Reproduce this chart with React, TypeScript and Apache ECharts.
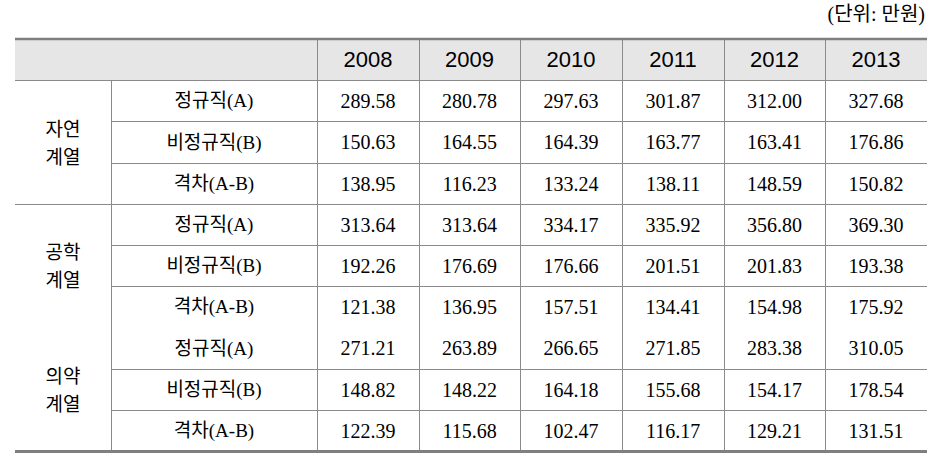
import React, { useEffect, useRef } from "react";
import * as echarts from "echarts";

// ---- data ----
const unitLabel = "(단위: 만원)";
const years = ["2008", "2009", "2010", "2011", "2012", "2013"];
const groups = ["자연\n계열", "공학\n계열", "의약\n계열"];
const types = ["정규직(A)", "비정규직(B)", "격차(A-B)"];

const natRegular = [289.58, 280.78, 297.63, 301.87, 312.0, 327.68];
const natIrregular = [150.63, 164.55, 164.39, 163.77, 163.41, 176.86];
const natGap = [138.95, 116.23, 133.24, 138.11, 148.59, 150.82];
const engRegular = [313.64, 313.64, 334.17, 335.92, 356.8, 369.3];
const engIrregular = [192.26, 176.69, 176.66, 201.51, 201.83, 193.38];
const engGap = [121.38, 136.95, 157.51, 134.41, 154.98, 175.92];
const medRegular = [271.21, 263.89, 266.65, 271.85, 283.38, 310.05];
const medIrregular = [148.82, 148.22, 164.18, 155.68, 154.17, 178.54];
const medGap = [122.39, 115.68, 102.47, 116.17, 129.21, 131.51];

// ---- layout (not data) ----
const COL_EDGES = [0, 96, 302, 403.67, 505.33, 607, 708.67, 810.33, 912];
const LINE = "#8a8a8a";
const SERIF = '"Liberation Serif", "Times New Roman", "Noto Sans CJK KR", serif';
const SANS = '"Liberation Sans", Arial, sans-serif';

type Kind = "corner" | "year" | "group" | "type" | "value";
type Cell = {
  c0: number; c1: number; r0: number; r1: number;
  text: string; kind: Kind; left: boolean; bottom: number; top: boolean;
};

function buildCells(): Cell[] {
  const cells: Cell[] = [];
  cells.push({ c0: 0, c1: 2, r0: 0, r1: 1, text: "", kind: "corner", left: false, bottom: 1, top: true });
  years.forEach((y, i) =>
    cells.push({ c0: 2 + i, c1: 3 + i, r0: 0, r1: 1, text: y, kind: "year", left: true, bottom: 1, top: true })
  );
  const valueSets = [
    [natRegular, natIrregular, natGap],
    [engRegular, engIrregular, engGap],
    [medRegular, medIrregular, medGap],
  ];
  const groupBottoms = [1, 0, 3];
  groups.forEach((g, gi) => {
    cells.push({ c0: 0, c1: 1, r0: 1 + 3 * gi, r1: 4 + 3 * gi, text: g, kind: "group", left: false, bottom: groupBottoms[gi], top: false });
    types.forEach((t, ti) => {
      const r = 1 + 3 * gi + ti;
      const bottom = ti < 2 ? 1 : groupBottoms[gi];
      cells.push({ c0: 1, c1: 2, r0: r, r1: r + 1, text: t, kind: "type", left: true, bottom, top: false });
      valueSets[gi][ti].forEach((v, i) =>
        cells.push({ c0: 2 + i, c1: 3 + i, r0: r, r1: r + 1, text: v.toFixed(2), kind: "value", left: true, bottom, top: false })
      );
    });
  });
  return cells;
}

export default function App() {
  const ref = useRef<HTMLDivElement>(null);
  useEffect(() => {
    if (!ref.current) return;
    const chart = echarts.init(ref.current, undefined, { renderer: "svg" });
    const cells = buildCells();
    const option: any = {
      animation: false,
      backgroundColor: "#ffffff",
      title: {
        text: unitLabel,
        right: 16,
        top: 4,
        padding: 0,
        textStyle: { fontSize: 20, fontWeight: "normal", color: "#000", fontFamily: SERIF },
      },
      grid: { left: 15, right: 14, top: 39, bottom: 11 },
      xAxis: { type: "value", min: 0, max: 912, show: false },
      yAxis: { type: "value", min: 0, max: 10, inverse: true, show: false },
      series: [
        {
          type: "custom",
          coordinateSystem: "cartesian2d",
          encode: { x: [0, 2], y: [1, 3] },
          data: cells.map((c) => [COL_EDGES[c.c0], c.r0, COL_EDGES[c.c1], c.r1]),
          renderItem: (params: any, api: any) => {
            const cell = cells[params.dataIndex];
            const pa = api.coord([COL_EDGES[cell.c0], cell.r0]);
            const pb = api.coord([COL_EDGES[cell.c1], cell.r1]);
            const xa = Math.round(pa[0]), ya = Math.round(pa[1]);
            const xb = Math.round(pb[0]), yb = Math.round(pb[1]);
            const children: any[] = [];
            if (cell.kind === "corner" || cell.kind === "year") {
              children.push({ type: "rect", shape: { x: xa, y: ya, width: xb - xa, height: yb - ya }, style: { fill: "#e6e6e6" }, z2: 0 });
            }
            if (cell.top) {
              children.push({ type: "line", shape: { x1: xa, y1: ya, x2: xb, y2: ya }, style: { stroke: "#7f7f7f", lineWidth: 2.5 }, z2: 12 });
            }
            if (cell.left) {
              children.push({ type: "line", shape: { x1: xa + 0.5, y1: ya, x2: xa + 0.5, y2: yb }, style: { stroke: LINE, lineWidth: 1 }, z2: 10 });
            }
            if (cell.bottom === 1) {
              children.push({ type: "line", shape: { x1: xa, y1: yb + 0.5, x2: xb, y2: yb + 0.5 }, style: { stroke: LINE, lineWidth: 1 }, z2: 10 });
            } else if (cell.bottom === 3) {
              children.push({ type: "line", shape: { x1: xa, y1: yb + 0.5, x2: xb, y2: yb + 0.5 }, style: { stroke: "#7f7f7f", lineWidth: 3 }, z2: 12 });
            }
            if (cell.text) {
              const isYear = cell.kind === "year";
              const isValue = cell.kind === "value";
              children.push({
                type: "text",
                x: (xa + xb) / 2,
                y: (ya + yb) / 2 + (cell.kind === "group" ? 1 : 0),
                z2: 5,
                style: {
                  text: cell.text,
                  fill: "#000",
                  fontFamily: isYear ? SANS : SERIF,
                  fontSize: isYear ? 22 : isValue ? 20 : 19,
                  lineHeight: 28,
                  align: "center",
                  verticalAlign: "middle",
                },
              });
            }
            return { type: "group", children };
          },
        },
      ],
    };
    chart.setOption(option);
    return () => chart.dispose();
  }, []);
  return (
    <div style={{ position: "fixed", left: 0, top: 0, width: 941, height: 462, background: "#fff" }}>
      <div ref={ref} style={{ width: 941, height: 462 }} />
    </div>
  );
}
